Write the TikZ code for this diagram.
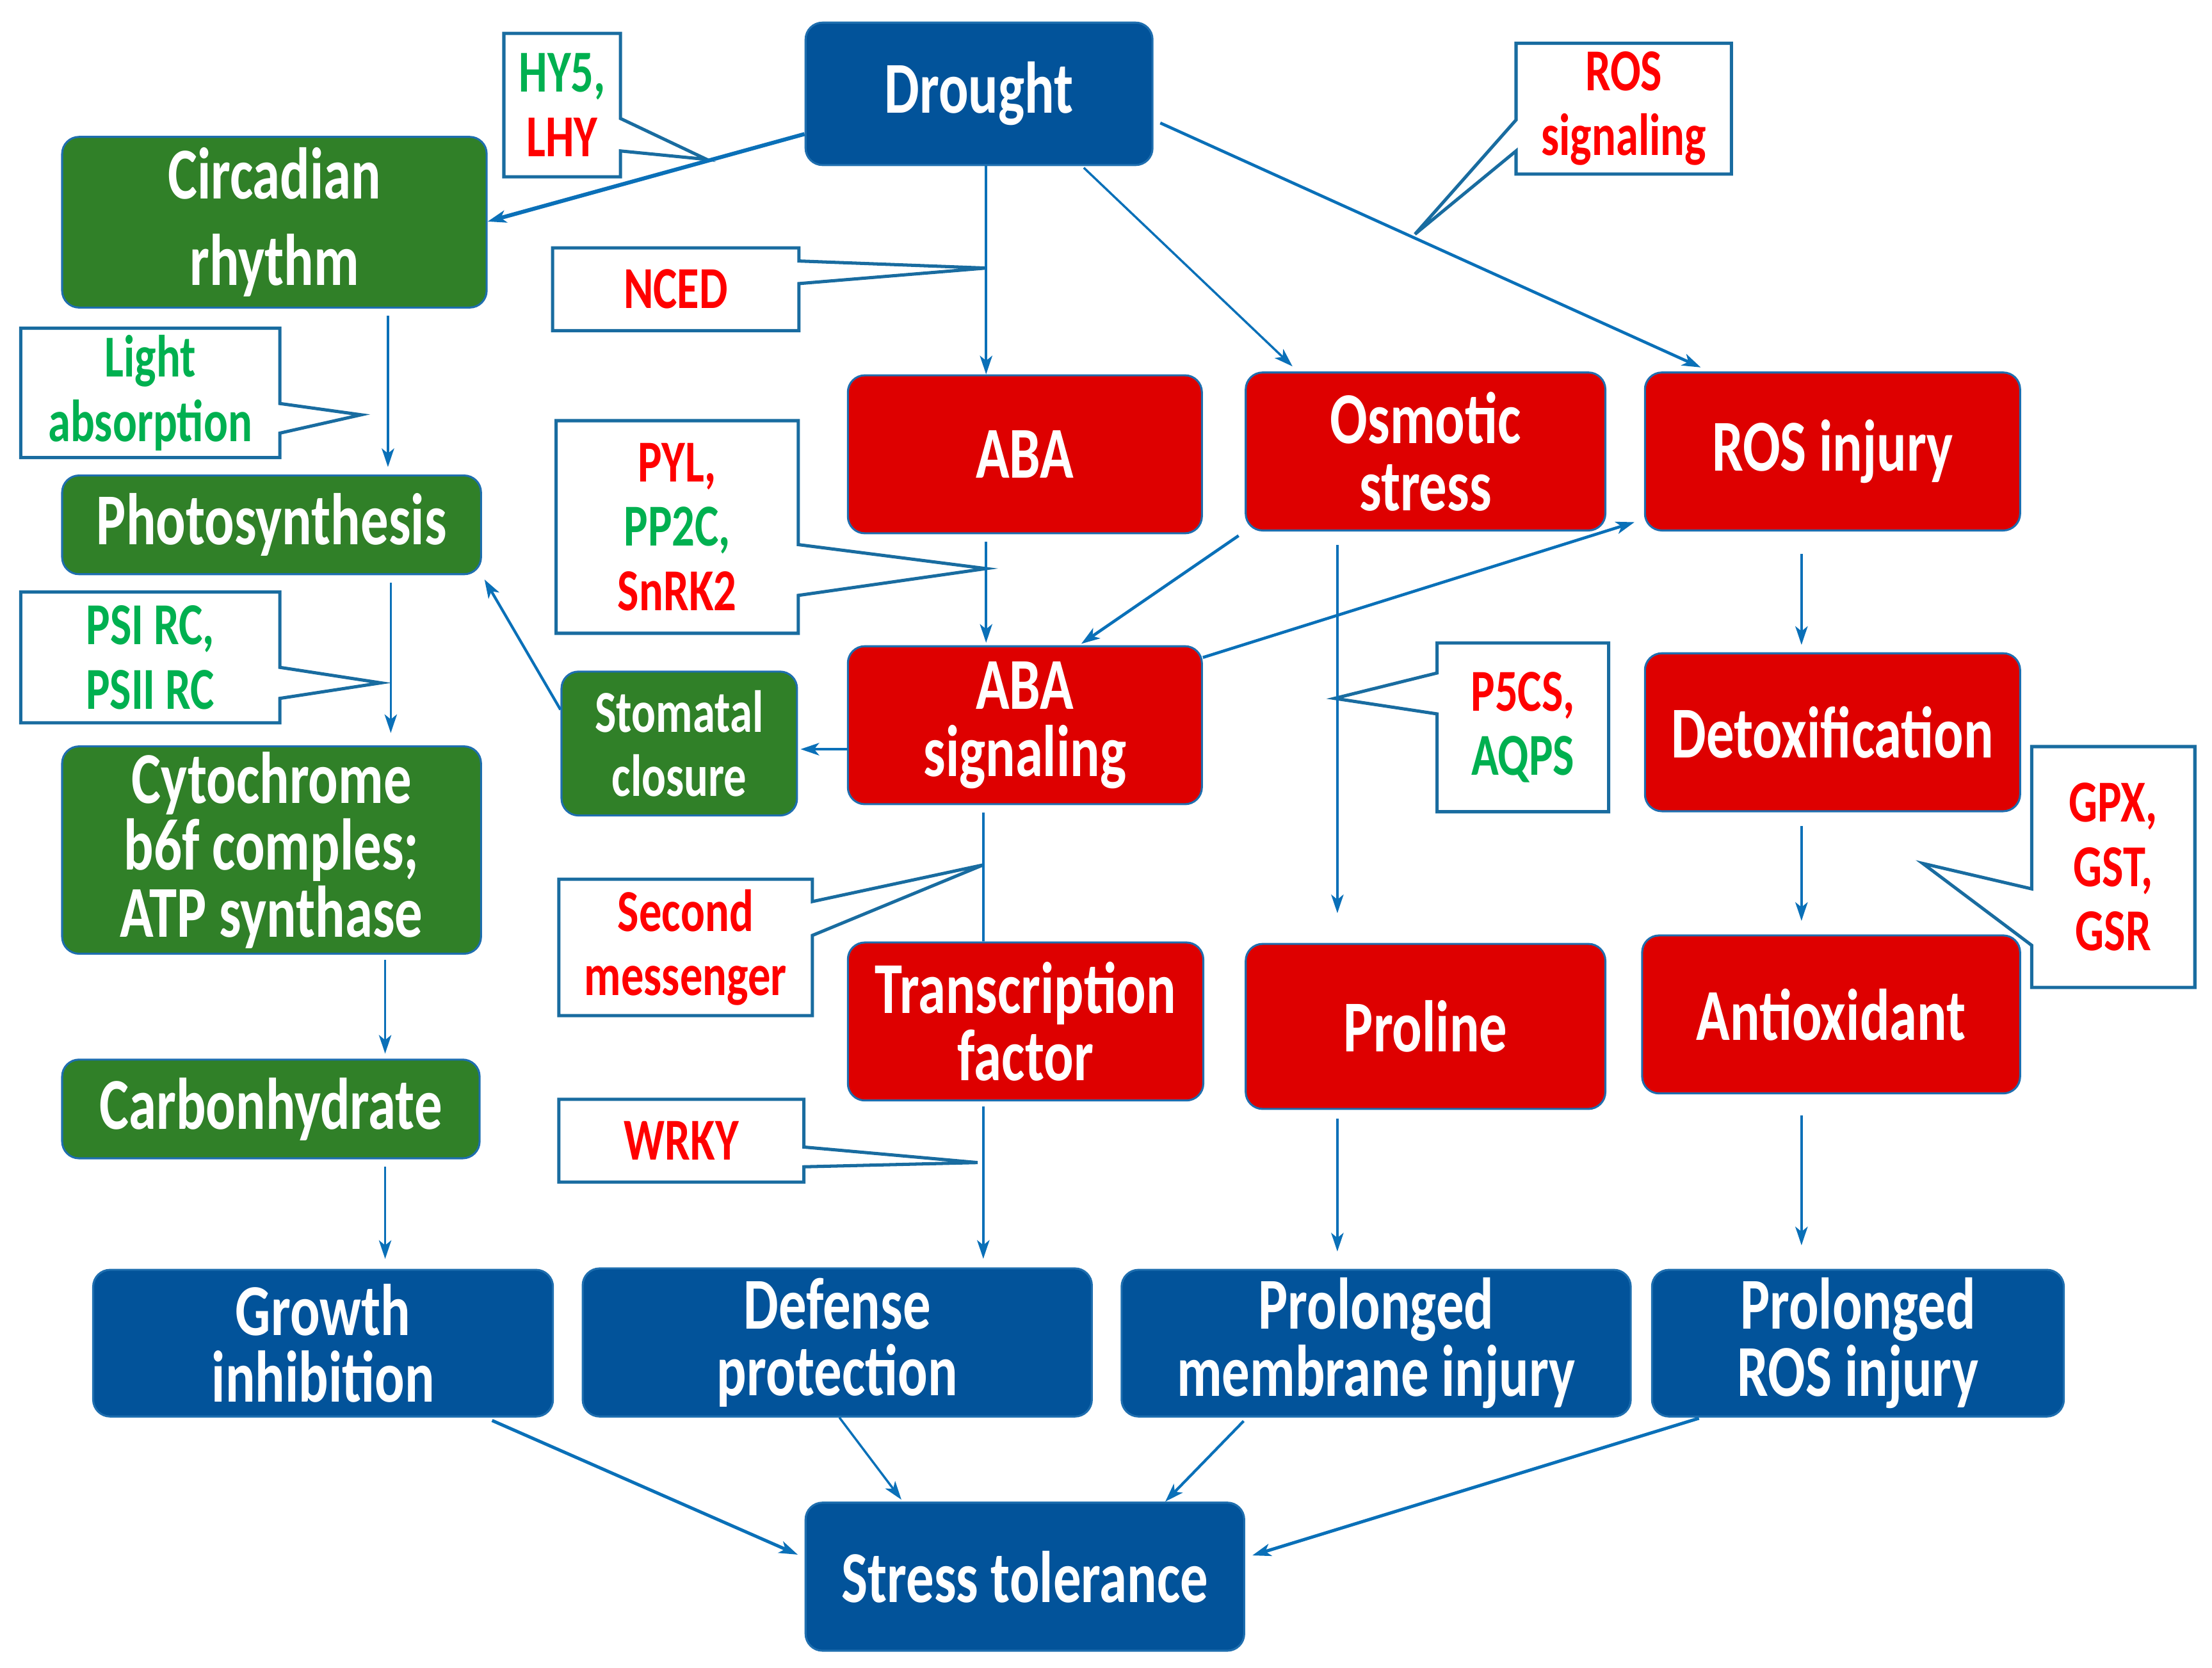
\documentclass[tikz,border=0pt]{standalone}
\usepackage{fontspec}
\setmainfont{Carlito}
\newfontfamily\boxfont{Carlito}[FakeStretch=0.76]
\usetikzlibrary{arrows.meta}
\definecolor{boxblue}{RGB}{2,83,154}
\definecolor{boxred}{RGB}{222,0,0}
\definecolor{boxgreen}{RGB}{48,128,40}
\definecolor{edgeblue}{RGB}{30,110,175}
\definecolor{lineblue}{RGB}{10,112,184}
\definecolor{noteblue}{RGB}{25,108,160}
\definecolor{txtred}{RGB}{255,0,0}
\definecolor{txtgreen}{RGB}{0,176,80}

\begin{document}
\begin{tikzpicture}[x=0.02cm,y=-0.02cm,
	box/.style={draw=edgeblue,line width=0.8pt,rounded corners=0.24cm,text=white,align=center,inner sep=0pt,font=\boxfont\bfseries\fontsize{29.5}{27}\selectfont},
	note/.style={align=center,inner sep=0pt,font=\boxfont\bfseries\fontsize{24}{26}\selectfont},
	callout/.style={draw=noteblue,line width=1.3pt},
	arr/.style={draw=lineblue,line width=0.9pt,-{Stealth[length=7.5pt,width=5pt,inset=2pt]}}]
	\useasboundingbox (0,0) rectangle (1568,1182);

	\node[box,fill=boxblue,minimum width=4.92cm,minimum height=2.02cm] (drought) at (694,66.5) {Drought};
	\node[box,fill=boxgreen,minimum width=6.02cm,minimum height=2.42cm] (circ) at (194.5,157.5) {Circadian\\[8pt]rhythm};
	\node[box,fill=boxgreen,minimum width=5.94cm,minimum height=1.40cm] (photo) at (192.5,372) {Photosynthesis};
	\node[box,fill=boxgreen,minimum width=5.94cm,minimum height=2.94cm] (cyto) at (192.5,602.5) {Cytochrome\\b6f comples;\\ATP synthase};
	\node[box,fill=boxgreen,minimum width=5.92cm,minimum height=1.40cm] (carbo) at (192,786) {Carbonhydrate};
	\node[box,fill=boxred,minimum width=5.02cm,minimum height=2.24cm] (aba) at (726.5,322) {ABA};
	\node[box,fill=boxred,minimum width=5.10cm,minimum height=2.24cm] (osm) at (1010.5,320) {Osmotic\\stress};
	\node[box,fill=boxred,minimum width=5.32cm,minimum height=2.24cm] (rosinj) at (1299,320) {ROS injury};
	\node[box,fill=boxred,minimum width=5.02cm,minimum height=2.24cm] (abasig) at (726.5,514) {ABA\\signaling};
	\node[box,fill=boxgreen,minimum width=3.34cm,minimum height=2.04cm,font=\boxfont\bfseries\fontsize{24}{26}\selectfont] (stoma) at (481.5,527) {Stomatal\\closure};
	\node[box,fill=boxred,minimum width=5.32cm,minimum height=2.24cm] (detox) at (1299,519) {Detoxification};
	\node[box,fill=boxred,minimum width=5.04cm,minimum height=2.24cm] (tf) at (727,724) {Transcription\\factor};
	\node[box,fill=boxred,minimum width=5.10cm,minimum height=2.34cm] (proline) at (1010.5,727.5) {Proline};
	\node[box,fill=boxred,minimum width=5.36cm,minimum height=2.24cm] (antiox) at (1298,719) {Antioxidant};
	\node[box,fill=boxblue,minimum width=6.52cm,minimum height=2.08cm] (growth) at (229,952) {Growth\\inhibition};
	\node[box,fill=boxblue,minimum width=7.22cm,minimum height=2.10cm] (defense) at (593.5,951.5) {Defense\\protection};
	\node[box,fill=boxblue,minimum width=7.22cm,minimum height=2.08cm] (prolmem) at (975.5,952) {Prolonged\\membrane injury};
	\node[box,fill=boxblue,minimum width=5.84cm,minimum height=2.08cm] (prolros) at (1317,952) {Prolonged\\ROS injury};
	\node[box,fill=boxblue,minimum width=6.22cm,minimum height=2.10cm] (stress) at (726.5,1117.5) {Stress tolerance};

	\node[note,minimum width=1.64cm,minimum height=2.02cm] (hy5) at (398.5,74.5) {\textcolor{txtgreen}{HY5,}\\\textcolor{txtred}{LHY}};
	\node[note,minimum width=3.48cm,minimum height=1.16cm,text=txtred] (nced) at (479,205) {NCED};
	\node[note,minimum width=3.04cm,minimum height=1.84cm,text=txtred] (rossig) at (1151,77) {ROS\\signaling};
	\node[note,minimum width=3.66cm,minimum height=1.82cm,text=txtgreen] (light) at (106.5,278.5) {Light\\absorption};
	\node[note,minimum width=3.66cm,minimum height=1.84cm,text=txtgreen] (psi) at (106.5,466) {PSI RC,\\PSII RC};
	\node[note,minimum width=3.42cm,minimum height=3.00cm] (pyl) at (480,373.5) {\textcolor{txtred}{PYL,}\\\textcolor{txtgreen}{PP2C,}\\\textcolor{txtred}{SnRK2}};
	\node[note,minimum width=2.42cm,minimum height=2.38cm] (p5cs) at (1079.5,515.5) {\textcolor{txtred}{P5CS,}\\\textcolor{txtgreen}{AQPS}};
	\node[note,minimum width=2.30cm,minimum height=3.40cm,text=txtred] (gpx) at (1498,614.5) {GPX,\\GST,\\GSR};
	\node[note,minimum width=3.58cm,minimum height=1.92cm,text=txtred] (secmsg) at (486,671.5) {Second\\messenger};
	\node[note,minimum width=3.46cm,minimum height=1.16cm,text=txtred] (wrky) at (483,808.5) {WRKY};

	\coordinate (hy5tip) at (501,113);
	\coordinate (ncedtip) at (699,190);
	\coordinate (rossigtip) at (1003,166);
	\coordinate (lighttip) at (256,294);
	\coordinate (psitip) at (270,484);
	\coordinate (pyltip) at (699,403);
	\coordinate (p5cstip) at (946,495);
	\coordinate (gpxtip) at (1363,612);
	\coordinate (secmsgtip) at (697,613);
	\coordinate (wrkytip) at (693,824);

	\draw[callout] (hy5.north west) -- (hy5.north east) -- (hy5.east |- 0,84) -- (hy5tip) -- (hy5.east |- 0,107) -- (hy5.south east) -- (hy5.south west) -- cycle;
	\draw[callout] (nced.north west) -- (nced.north east) -- (nced.east |- 0,185) -- (ncedtip) -- (nced.east |- 0,201) -- (nced.south east) -- (nced.south west) -- cycle;
	\draw[callout] (rossig.north west) -- (rossig.north east) -- (rossig.south east) -- (rossig.south west) -- (rossig.west |- 0,107) -- (rossigtip) -- (rossig.west |- 0,85) -- cycle;
	\draw[callout] (light.north west) -- (light.north east) -- (light.east |- 0,286) -- (lighttip) -- (light.east |- 0,307) -- (light.south east) -- (light.south west) -- cycle;
	\draw[callout] (psi.north west) -- (psi.north east) -- (psi.east |- 0,473) -- (psitip) -- (psi.east |- 0,495) -- (psi.south east) -- (psi.south west) -- cycle;
	\draw[callout] (pyl.north west) -- (pyl.north east) -- (pyl.east |- 0,386) -- (pyltip) -- (pyl.east |- 0,422) -- (pyl.south east) -- (pyl.south west) -- cycle;
	\draw[callout] (p5cs.north west) -- (p5cs.north east) -- (p5cs.south east) -- (p5cs.south west) -- (p5cs.west |- 0,506) -- (p5cstip) -- (p5cs.west |- 0,477) -- cycle;
	\draw[callout] (gpx.north west) -- (gpx.north east) -- (gpx.south east) -- (gpx.south west) -- (gpx.west |- 0,670) -- (gpxtip) -- (gpx.west |- 0,630) -- cycle;
	\draw[callout] (secmsg.north west) -- (secmsg.north east) -- (secmsg.east |- 0,639) -- (secmsgtip) -- (secmsg.east |- 0,663) -- (secmsg.south east) -- (secmsg.south west) -- cycle;
	\draw[callout] (wrky.north west) -- (wrky.north east) -- (wrky.east |- 0,813) -- (wrkytip) -- (wrky.east |- 0,827) -- (wrky.south east) -- (wrky.south west) -- cycle;

	\draw[arr,line width=1.6pt] (drought.west |- 0,95) -- (circ.east |- 0,157);
	\draw[arr] (drought.south -| ncedtip) -- (aba.north -| ncedtip);
	\draw[arr,shorten <=1pt,shorten >=3pt] (drought.south -| 767,0) -- (osm.north -| 920,0);
	\draw[arr,line width=1.2pt,shorten <=3pt,shorten >=4pt] (drought.east |- 0,85) -- (rosinj.north -| 1212,0);
	\draw[arr,shorten <=3pt,shorten >=3pt] (circ.south -| 275,0) -- (photo.north -| 275,0);
	\draw[arr,shorten <=3pt,shorten >=5pt] (photo.south -| 277,0) -- (cyto.north -| 277,0);
	\draw[arr,shorten <=2pt,shorten >=2pt] (cyto.south -| 273,0) -- (carbo.north -| 273,0);
	\draw[arr,shorten <=3pt,shorten >=4pt] (carbo.south -| 273,0) -- (growth.north -| 273,0);
	\draw[arr,shorten <=3pt,shorten >=1pt] (aba.south -| pyltip) -- (abasig.north -| pyltip);
	\draw[arr,line width=1.2pt,shorten <=3pt,shorten >=1pt] (osm.south west) -- (abasig.north -| 765,0);
	\draw[arr,line width=1.2pt,shorten >=4pt] (abasig.east |- 0,466) -- (rosinj.west |- 0,368);
	\draw[arr,line width=1.2pt,shorten >=1pt] (abasig.west |- 0,531) -- (stoma.east |- 0,531);
	\draw[arr,line width=1.1pt,shorten >=2pt] (stoma.west |- 0,503) -- (photo.south east);
	\draw[arr,shorten <=5.5pt,shorten >=12pt] (osm.south -| 948,0) -- (proline.north -| 948,0);
	\draw[draw=lineblue,line width=0.9pt,shorten <=3pt] (abasig.south -| secmsgtip) -- (tf.north -| secmsgtip);
	\draw[arr,shorten <=2pt,shorten >=3.5pt] (tf.south -| 697,0) -- (defense.north -| 697,0);
	\draw[arr,shorten <=3.5pt,shorten >=7pt] (proline.south -| 948,0) -- (prolmem.north -| 948,0);
	\draw[arr,shorten <=9pt,shorten >=3pt] (rosinj.south -| 1277,0) -- (detox.north -| 1277,0);
	\draw[arr,shorten <=5.5pt,shorten >=5.5pt] (detox.south -| 1277,0) -- (antiox.north -| 1277,0);
	\draw[arr,shorten <=8.5pt,shorten >=9.5pt] (antiox.south -| 1277,0) -- (prolros.north -| 1277,0);
	\draw[arr,line width=1.3pt,shorten <=3pt,shorten >=3pt] (growth.south -| 344,0) -- (stress.west |- 0,1104);
	\draw[arr,shorten >=1pt] (defense.south -| 595,0) -- (stress.north -| 640,0);
	\draw[arr,line width=1.1pt,shorten <=2pt] (prolmem.south -| 884,0) -- (stress.north -| 826,0);
	\draw[arr,line width=1.3pt,shorten <=1pt,shorten >=3pt] (prolros.south -| 1206,0) -- (stress.east |- 0,1104);
\end{tikzpicture}
\end{document}
